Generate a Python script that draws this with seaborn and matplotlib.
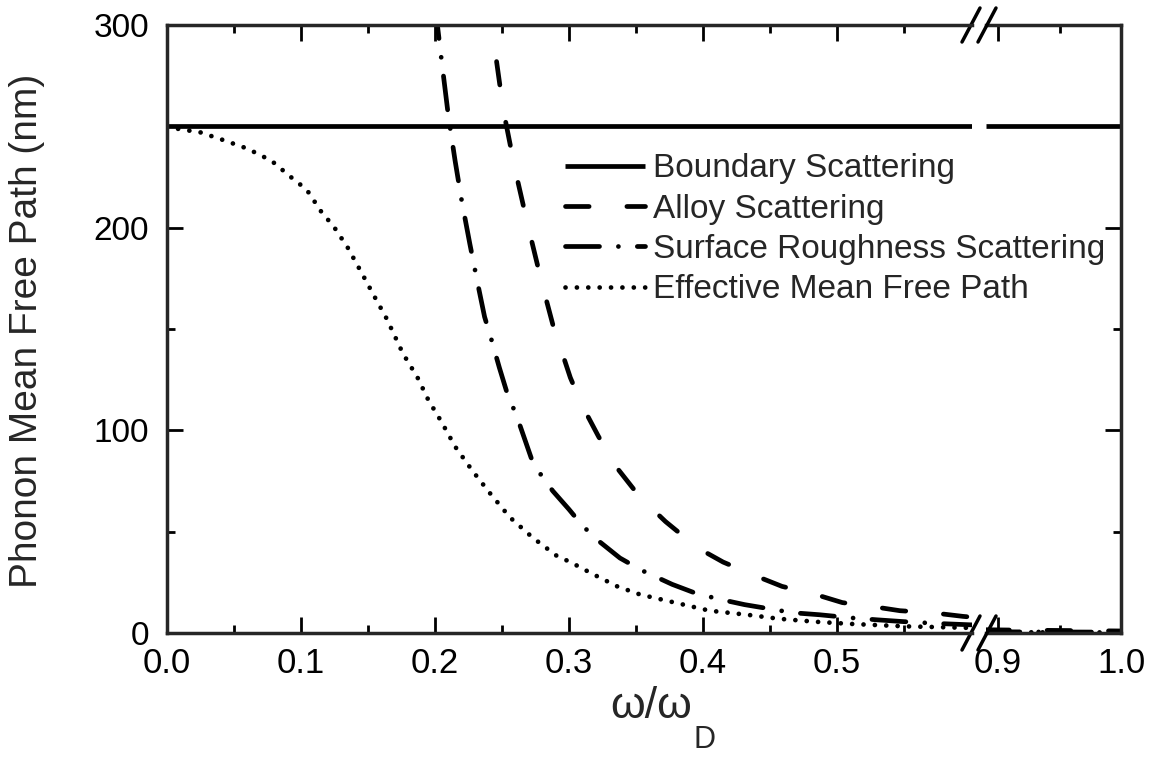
import matplotlib.pyplot as plt
import seaborn as sns
from matplotlib.lines import Line2D

# ---- data (omega/omega_D vs mean free path in nm) ----
# left part of the broken axis (0 - 0.6)
boundary_x = [0.0, 0.601]
boundary_y = [250, 250]

alloy_x = [0.240, 0.243, 0.251, 0.260, 0.269, 0.280, 0.288, 0.301, 0.310, 0.322,
           0.334, 0.353, 0.372, 0.396, 0.415, 0.440, 0.459, 0.484, 0.504, 0.527,
           0.547, 0.571, 0.594, 0.601]
alloy_y = [312, 296, 258, 228, 202, 172, 152, 126, 112, 97,
           83, 67, 55, 42, 35, 28, 23, 19, 15, 13,
           11, 10, 8.2, 7.8]

surface_x = [0.200, 0.205, 0.210, 0.215, 0.220, 0.226, 0.232, 0.237, 0.242, 0.248,
             0.254, 0.261, 0.272, 0.280, 0.288, 0.300, 0.310, 0.321, 0.338, 0.354,
             0.377, 0.393, 0.410, 0.431, 0.449, 0.467, 0.487, 0.510, 0.530, 0.550,
             0.575, 0.601]
surface_y = [310, 282, 255, 233, 213, 192, 172, 156, 145, 131,
             118, 107, 86, 77, 70, 61, 53, 46, 37, 31,
             24, 20, 17, 14, 12, 10, 9, 7.5, 6.5, 5.6,
             4.7, 4.0]

effective_x = [0.000, 0.006, 0.025, 0.043, 0.060, 0.078, 0.096, 0.104, 0.116, 0.124,
               0.135, 0.145, 0.154, 0.164, 0.176, 0.187, 0.195, 0.205, 0.215, 0.228,
               0.241, 0.256, 0.273, 0.291, 0.301, 0.318, 0.336, 0.353, 0.379, 0.405,
               0.433, 0.457, 0.485, 0.510, 0.550, 0.601]
effective_y = [250, 249, 247, 243, 239, 233, 223, 219, 207, 201,
               190, 178, 167, 155, 138, 126, 115, 104, 92, 80,
               69, 57, 47, 38, 35, 29, 23, 19, 15, 11,
               9, 7, 5.5, 4.5, 3.3, 2.5]

# right part of the broken axis (0.89 - 1.0)
hi_x = [0.890, 0.920, 0.950, 0.980, 1.000]
boundary_hi_y = [250, 250, 250, 250, 250]
alloy_hi_y = [1.6, 1.4, 1.25, 1.1, 1.0]
surface_hi_y = [0.6, 0.55, 0.5, 0.45, 0.4]
effective_hi_y = [0.4, 0.35, 0.3, 0.3, 0.25]

labels = ['Boundary Scattering', 'Alloy Scattering',
          'Surface Roughness Scattering', 'Effective Mean Free Path']
xticks_lo = [0.0, 0.1, 0.2, 0.3, 0.4, 0.5]
xticks_hi = [0.9, 1.0]
yticks = [0, 100, 200, 300]

# ---- style ----
sns.set_theme(style='ticks')
plt.rcParams['font.family'] = ['Liberation Sans', 'DejaVu Sans']
plt.rcParams['axes.linewidth'] = 2.5

W, H = 1158, 761
LW = 3.4
styles = ['-', (0, (5.0, 8.0)), (0, (7.2, 4.0, 0.01, 4.0)), (0, (0.01, 2.4))]


def fx(px):
    return px / W


def fy(py):
    return 1 - py / H


fig = plt.figure(figsize=(W / 100, H / 100), dpi=100)
ax1 = fig.add_axes([fx(167), fy(633), (972 - 167) / W, (633 - 25) / H])
ax2 = fig.add_axes([fx(986), fy(633), (1121 - 986) / W, (633 - 25) / H])
# left axes on top so its legend can run across the break
ax2.set_zorder(1)
ax1.set_zorder(2)
ax1.patch.set_visible(False)

series_lo = [(boundary_x, boundary_y), (alloy_x, alloy_y),
             (surface_x, surface_y), (effective_x, effective_y)]
series_hi = [boundary_hi_y, alloy_hi_y, surface_hi_y, effective_hi_y]

for (x, y), st, lab in zip(series_lo, styles, labels):
    sns.lineplot(x=x, y=y, ax=ax1, color='black', lw=LW, linestyle=st,
                 dash_capstyle='round', solid_capstyle='butt',
                 estimator=None, sort=False, label=lab)
for y, st in zip(series_hi, styles):
    sns.lineplot(x=hi_x, y=y, ax=ax2, color='black', lw=LW, linestyle=st,
                 dash_capstyle='round', solid_capstyle='butt',
                 estimator=None, sort=False)

# axes limits / ticks
ax1.set_xlim(0, (972 - 167) / 1340)
ax2.set_xlim(1.0 - (1121 - 986) / 1230, 1.0)
for ax in (ax1, ax2):
    ax.set_ylim(0, 300)
    ax.set_xlabel('')
    ax.set_ylabel('')
    ax.tick_params(which='both', direction='in', top=True, width=2, colors='black')
    ax.tick_params(which='major', length=11.5)
    ax.tick_params(axis='x', which='major', labelsize=25, pad=10)
    ax.tick_params(axis='y', which='major', labelsize=24, pad=13)
    ax.tick_params(which='minor', length=6)

ax1.set_xticks(xticks_lo, [f'{t:.1f}' for t in xticks_lo])
ax1.set_xticks([0.05, 0.15, 0.25, 0.35, 0.45, 0.55], minor=True)
ax1.set_yticks(yticks, [str(t) for t in yticks])
ax1.set_yticks([50, 150, 250], minor=True)
ax1.tick_params(axis='y', which='both', right=False, left=True)
ax1.spines['right'].set_visible(False)

ax2.set_xticks(xticks_hi, [f'{t:.1f}' for t in xticks_hi])
ax2.set_xticks([0.95], minor=True)
ax2.set_yticks(yticks)
ax2.set_yticks([50, 150, 250], minor=True)
ax2.tick_params(axis='y', which='both', left=False, right=True,
                labelleft=False, labelright=False)
ax2.spines['left'].set_visible(False)

# axis break marks
for ytop, ybot in [(650, 616), (42, 8)]:
    for x0 in (962, 978):
        fig.add_artist(Line2D([fx(x0), fx(x0 + 18)], [fy(ytop), fy(ybot)],
                              transform=fig.transFigure, color='black', lw=2.5))

leg = ax1.legend(loc='upper left', bbox_to_anchor=(0.494, 0.789), frameon=False,
                 fontsize=24, handlelength=2.4, handletextpad=0.25,
                 labelspacing=0.28, borderpad=0, borderaxespad=0)
leg.set_zorder(10)
if ax2.get_legend() is not None:
    ax2.get_legend().remove()

fig.text(fx(27), fy(331), 'Phonon Mean Free Path (nm)', rotation=90,
         ha='center', va='center', fontsize=28)
fig.text(fx(692), fy(718), 'ω/ω', ha='right', va='baseline', fontsize=32)
fig.text(fx(694), fy(748), 'D', ha='left', va='baseline', fontsize=22)

fig.savefig('out.png', dpi=100)
